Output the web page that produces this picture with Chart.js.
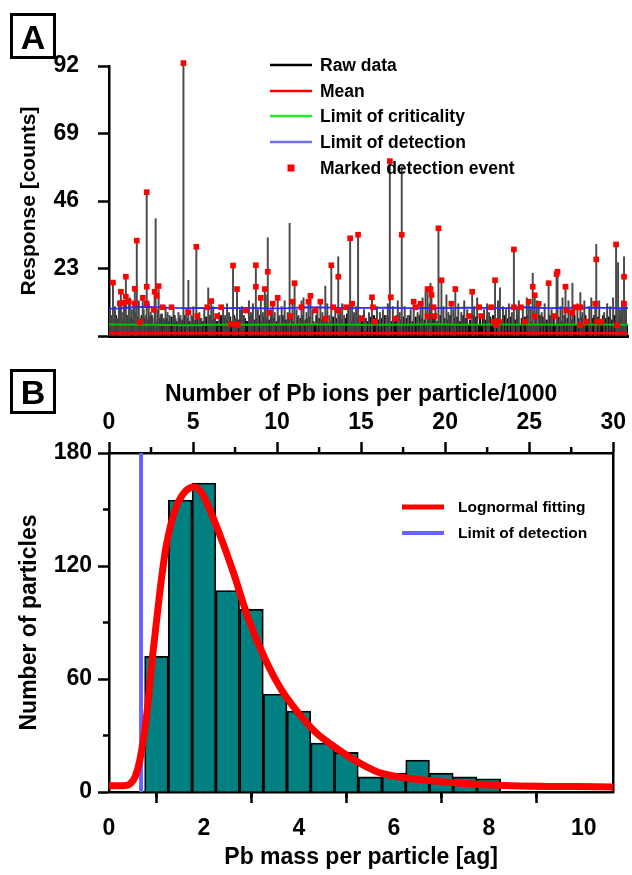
<!DOCTYPE html>
<html>
<head>
<meta charset="utf-8">
<script src="https://cdn.jsdelivr.net/npm/chart.js@4.4.0/dist/chart.umd.min.js"></script>
<style>
  body { margin: 0; background: #fff; }
  #wrap { position: relative; width: 632px; height: 875px; }
  .panel { position: absolute; left: 0; }
  .tag { position: absolute; left: 10px; width: 40px; border: 3px solid #000;
         font: bold 34px Arial, "Liberation Sans", sans-serif; text-align: center; }
</style>
</head>
<body>
<div id="wrap">
  <canvas id="chartA" class="panel" width="632" height="375" style="top:0"></canvas>
  <canvas id="chartB" class="panel" width="632" height="500" style="top:375px"></canvas>
  <div class="tag" style="top:13px;height:40px;line-height:42px">A</div>
  <div class="tag" style="top:369px;height:39px;line-height:41px">B</div>
</div>
<script>
const FONT = 'Arial, "Liberation Sans", sans-serif';

// ---------- panel A : time trace (x = time index) ----------
// big spikes of the raw signal
const spikeT = [4, 11, 12, 15, 17, 20, 26, 28, 34, 38,
                46, 47, 50, 75, 80, 88, 100, 103, 125, 129,
                148, 153, 157, 160, 165, 170, 182, 185, 187, 194,
                201, 203, 213, 218, 224, 231, 243, 245, 251, 265,
                283, 295, 307, 314, 321, 324, 325, 332, 335, 345,
                349, 366, 389, 394, 408, 423, 427, 429, 433, 443,
                451, 452, 460, 467, 475, 490, 491, 511, 513, 519];
const spikeH = [18.2, 12, 15.1, 11.3, 20.2, 11.7, 16.1, 32.5, 13, 49,
                15.1, 40, 17, 93, 19, 30.4, 16.4, 11.9, 24, 16,
                24.1, 13, 16, 33.5, 11, 13, 38.4, 11.7, 18, 12,
                11.7, 13.7, 11.7, 17, 24.1, 27, 33.3, 11, 34.5, 13.2,
                59.6, 57.7, 11.7, 11, 16, 18, 14, 36.7, 19, 11,
                16, 15.1, 19, 16.4, 29.5, 11.7, 21.4, 13.9, 11, 18,
                21.1, 21.9, 16.8, 18, 14.8, 11, 31.2, 31.2, 25, 27];

// small background spikes
const grassT = [1, 3, 6, 8, 10, 13, 16, 19, 21, 23,
                25, 27, 30, 32, 35, 37, 40, 42, 44, 49,
                52, 55, 57, 59, 61, 65, 67, 70, 72, 78,
                83, 85, 91, 93, 96, 102, 105, 107, 111, 115,
                117, 119, 121, 127, 132, 134, 136, 141, 143, 145,
                150, 155, 158, 163, 167, 172, 174, 177, 180, 189,
                191, 196, 199, 205, 210, 215, 220, 222, 228, 233,
                235, 237, 241, 247, 249, 253, 257, 259, 262, 270,
                273, 276, 279, 281, 286, 291, 293, 298, 301, 304,
                311, 316, 319, 323, 329, 337, 340, 342, 347, 352,
                355, 358, 361, 368, 371, 378, 381, 383, 392, 397,
                400, 403, 406, 411, 413, 417, 421, 425, 431, 436,
                439, 446, 455, 457, 463, 465, 472, 477, 479, 484,
                486, 494, 499, 502, 505, 508, 515, 517, 521];
const grassH = [9, 7, 10, 6, 12, 8, 11, 7, 13, 9,
                10, 8, 12, 6, 9, 7, 11, 8, 6, 9,
                7, 6, 10, 8, 7, 9, 6, 8, 7, 9,
                7, 10, 8, 6, 9, 7, 10, 6, 8, 9,
                7, 11, 8, 6, 9, 10, 7, 12, 8, 11,
                9, 8, 14, 9, 8, 7, 10, 12, 8, 9,
                7, 13, 8, 9, 10, 8, 11, 7, 9, 8,
                11, 7, 9, 8, 10, 7, 9, 6, 8, 10,
                8, 9, 7, 11, 10, 12, 8, 10, 7, 9,
                8, 13, 15, 11, 9, 10, 14, 8, 9, 11,
                8, 12, 9, 10, 13, 9, 11, 8, 12, 10,
                9, 11, 8, 10, 12, 9, 13, 10, 12, 8,
                11, 9, 10, 13, 12, 9, 11, 8, 12, 10,
                13, 12, 8, 11, 10, 13, 9, 12, 10];

// short, dense noise just above the floor
const lowT = [2, 5, 7, 9, 12, 14, 18, 22, 24, 29,
              31, 33, 36, 39, 41, 43, 47, 51, 53, 56,
              58, 60, 63, 66, 68, 71, 74, 76, 79, 81,
              84, 87, 89, 92, 95, 98, 101, 104, 106, 109,
              113, 116, 118, 122, 124, 126, 128, 131, 133, 137,
              139, 142, 144, 147, 149, 152, 154, 156, 159, 161,
              164, 166, 169, 171, 175, 178, 181, 184, 186, 190,
              193, 195, 198, 200, 202, 206, 209, 212, 214, 217,
              219, 223, 226, 229, 232, 234, 238, 240, 244, 246,
              250, 254, 256, 258, 261, 264, 267, 269, 272, 275,
              278, 282, 285, 288, 290, 294, 297, 300, 303, 306,
              309, 313, 315, 318, 322, 326, 328, 331, 334, 338,
              341, 344, 348, 351, 354, 357, 360, 364, 367, 370,
              374, 377, 380, 384, 387, 391, 395, 398, 402, 405,
              409, 412, 416, 419, 422, 426, 430, 434, 437, 441,
              444, 448, 453, 456, 459, 462, 466, 469, 473, 476,
              480, 483, 487, 489, 493, 496, 498, 501, 504, 507,
              510, 514, 516, 520];
const lowH = [6, 5, 7, 5.5, 6.5, 5, 7, 6, 5.5, 6.5,
              5, 7, 6, 5.5, 6.5, 7, 5, 6, 7.5, 5.5,
              6, 5, 6.5, 7, 5, 6, 5.5, 7, 6, 5,
              6.5, 5.5, 7, 6, 5, 6.5, 7, 5.5, 6, 5,
              7, 6, 5.5, 6.5, 5, 7, 6, 5.5, 7.5, 6,
              5, 6.5, 7, 5.5, 6, 7, 5, 6.5, 6, 5.5,
              7, 6, 5, 6.5, 7, 5.5, 6, 7, 5, 6.5,
              6, 7, 5.5, 6, 6.5, 5, 7, 6, 5.5, 6.5,
              7, 5, 6.5, 6, 7, 5.5, 6, 7.5, 5, 6.5,
              6, 5.5, 7, 6, 5, 6.5, 7, 6, 5.5, 6,
              7, 6.5, 5, 6, 7, 5.5, 6.5, 6, 7, 5,
              6.5, 7, 6, 5.5, 7, 6, 6.5, 5, 7, 6,
              5.5, 7, 6, 6.5, 5, 7, 6, 5.5, 7, 6.5,
              6, 7, 5.5, 6.5, 7, 6, 5, 7, 6, 6.5,
              5.5, 7, 6, 6.5, 7, 5, 6, 7, 6.5, 5.5,
              7, 6, 6.5, 5, 7, 6, 5.5, 7, 6, 6.5,
              7, 5.5, 6, 7, 6.5, 5, 7, 6, 6.5, 5.5,
              7, 6, 6.5, 5.5];

// solid noise floor
const floorT = [0, 60, 120, 180, 240, 300, 360, 420, 480, 523];
const floorH = [3.7, 3.6, 3.8, 3.6, 3.7, 3.6, 3.8, 3.6, 3.7, 3.6];

// marked detection events
const markT = [4, 11, 12, 15, 17, 17, 20, 26, 26, 28,
               31, 34, 38, 38, 38, 45, 46, 48, 50, 54,
               63, 75, 80, 88, 89, 99, 103, 109, 113, 123,
               125, 129, 129, 130, 138, 148, 148, 153, 157, 160,
               162, 165, 170, 183, 185, 187, 194, 201, 203, 208,
               213, 218, 224, 226, 231, 231, 239, 243, 245, 251,
               255, 265, 266, 268, 283, 284, 289, 295, 307, 309,
               314, 321, 321, 324, 325, 327, 328, 332, 335, 345,
               349, 363, 366, 373, 375, 385, 388, 389, 390, 393,
               408, 408, 415, 419, 423, 427, 429, 429, 433, 443,
               449, 451, 452, 460, 461, 467, 470, 475, 475, 481,
               490, 491, 492, 496, 511, 512, 519, 519];
const markH = [18.2, 11.1, 15.1, 11.3, 20.2, 13.4, 11.7, 16.1, 11.1, 32.5,
               4.7, 13, 49, 16.8, 11.1, 8.9, 15.1, 13.7, 17, 9.8,
               9.8, 93, 8.1, 30.4, 6.8, 9.8, 11.9, 6.8, 9.8, 4,
               24, 16, 4, 3.7, 8.7, 24.1, 16.8, 13, 16, 21.9,
               7.9, 11, 13, 6.8, 11.7, 18, 9.8, 11.7, 13.7, 8.7,
               11.7, 5.9, 24.1, 9.8, 20.2, 8.7, 9.8, 33.3, 11, 34.5,
               5.9, 13.2, 9.8, 4.9, 59.6, 13.2, 5.9, 34.5, 11.7, 9.8,
               11, 16, 6.8, 16, 14, 9.8, 6.8, 36.7, 19, 11,
               16, 6.8, 15.1, 9.8, 6.8, 9.8, 4.9, 19, 3.7, 4.9,
               29.5, 9.8, 9.8, 4.9, 11.7, 16.8, 13.9, 6.8, 11, 18,
               6.8, 21.1, 21.9, 16.8, 8.7, 7.9, 9.8, 9.8, 3.7, 4.9,
               11, 26.1, 4.9, 4.9, 31.2, 3.7, 20.2, 11];

const meanT = [0, 523];
const meanH = [0.9, 0.9];
const locT = [0, 40, 80, 120, 150, 200, 250, 300, 330, 350, 400, 450, 480, 523];
const locH = [3.9, 3.8, 3.7, 3.9, 3.8, 3.9, 3.8, 3.8, 4.0, 3.8, 3.9, 3.8, 3.9, 3.8];
const lodT = [0, 10, 25, 40, 60, 80, 100, 120, 140, 160, 180, 200, 220, 240,
              260, 280, 300, 320, 340, 360, 380, 400, 420, 440, 460, 480, 500, 523];
const lodH = [9.3, 9.4, 9.8, 9.9, 9.6, 9.5, 9.6, 9.5, 9.6, 9.4, 9.5, 9.8, 9.7, 9.5,
              9.6, 9.7, 9.5, 9.6, 9.5, 9.7, 9.6, 9.5, 9.8, 9.5, 9.6, 9.7, 9.6, 9.5];
const respStep = 23;

// ---------- panel B : histogram ----------
const binMid = [1.0, 1.5, 2.0, 2.5, 3.0, 3.5, 4.0, 4.5, 5.0, 5.5, 6.0, 6.5, 7.0, 7.5, 8.0];
const binCount = [72, 155, 164, 107, 97, 52, 43, 26, 21, 8, 10, 17, 10, 8, 7];
const fitX = [0, 0.35, 0.45, 0.55, 0.65, 0.79, 0.93, 1.07, 1.2, 1.41, 1.62, 1.8, 1.97, 2.25,
              2.6, 2.95, 3.3, 3.64, 3.99, 4.34, 4.69, 5.04, 5.38, 5.73, 6.78, 8.17, 10.62];
const fitY = [3.3, 3.5, 4.5, 8, 17, 40, 75, 106, 130, 151, 160, 162, 158, 142,
              118, 91, 70, 54, 42, 32, 25, 19, 14, 10, 6, 3.6, 2.7];
const lodMass = 0.675;
const yMinor = [30, 90, 150];
const massMinor = [1, 3, 5, 7, 9];
const ionMinor = [2.5, 7.5, 12.5, 17.5, 22.5, 27.5];

const pts = (xs, ys) => xs.map((x, i) => ({ x: x, y: ys[i] }));
const bold = size => ({ family: FONT, size: size, weight: 'bold' });

// legend drawn inside the plot like the original figure
function drawLegend(ctx, items, x0, x1, tx, font) {
  ctx.save();
  ctx.font = 'bold ' + font + 'px ' + FONT;
  ctx.textBaseline = 'middle';
  items.forEach(it => {
    if (it.square) {
      ctx.fillStyle = it.color;
      ctx.fillRect((x0 + x1) / 2 - 3.5, it.y - 3.5, 7, 7);
    } else {
      ctx.strokeStyle = it.color;
      ctx.lineWidth = it.width;
      ctx.beginPath();
      ctx.moveTo(x0, it.y);
      ctx.lineTo(x1, it.y);
      ctx.stroke();
    }
    ctx.fillStyle = '#000';
    ctx.fillText(it.label, tx, it.y + 1);
  });
  ctx.restore();
}

const legendA = {
  id: 'legendA',
  afterDraw(chart) {
    drawLegend(chart.ctx, [
      { label: 'Raw data', color: '#000', width: 2.5, y: 65 },
      { label: 'Mean', color: '#ff0000', width: 2.5, y: 91 },
      { label: 'Limit of criticality', color: '#22ee22', width: 2.5, y: 116 },
      { label: 'Limit of detection', color: '#6f6fff', width: 2.5, y: 142 },
      { label: 'Marked detection event', color: '#ff0000', square: true, y: 168 }
    ], 270, 312, 320, 17.5);
  }
};

const legendB = {
  id: 'legendB',
  afterDraw(chart) {
    drawLegend(chart.ctx, [
      { label: 'Lognormal fitting', color: '#ff0000', width: 5, y: 132 },
      { label: 'Limit of detection', color: '#6666ff', width: 4, y: 158 }
    ], 402, 444, 458, 15.5);
  }
};

const minorTicks = {
  id: 'minorTicks',
  afterDraw(chart) {
    const { ctx, scales } = chart;
    ctx.save();
    ctx.strokeStyle = '#000';
    ctx.lineWidth = 2.5;
    ctx.beginPath();
    yMinor.forEach(v => {
      const p = scales.y.getPixelForValue(v);
      ctx.moveTo(scales.y.right - 6, p); ctx.lineTo(scales.y.right, p);
    });
    massMinor.forEach(v => {
      const p = scales.x.getPixelForValue(v);
      ctx.moveTo(p, scales.x.top); ctx.lineTo(p, scales.x.top + 6);
    });
    ionMinor.forEach(v => {
      const p = scales.x2.getPixelForValue(v);
      ctx.moveTo(p, scales.x2.bottom - 6); ctx.lineTo(p, scales.x2.bottom);
    });
    ctx.stroke();
    ctx.restore();
  }
};

// panel A
new Chart(document.getElementById('chartA'), {
  type: 'line',
  data: {
    datasets: [
      { label: 'Marked detection event', data: pts(markT, markH), showLine: false,
        pointStyle: 'rect', pointRadius: 4, backgroundColor: '#ff0000', borderWidth: 0, clip: false, order: 0 },
      { label: 'Mean', data: pts(meanT, meanH), borderColor: '#ff0000', borderWidth: 2.5, pointRadius: 0, order: 1 },
      { label: 'Limit of detection', data: pts(lodT, lodH), borderColor: '#2a2aff', borderWidth: 1.8, pointRadius: 0, order: 2 },
      { label: 'Limit of criticality', data: pts(locT, locH), borderColor: '#00c000', borderWidth: 2, pointRadius: 0, order: 3 },
      { label: 'Raw data', type: 'bar', data: pts(spikeT, spikeH), backgroundColor: '#4a4a4a',
        barThickness: 1.3, grouped: false, clip: false, order: 4 },
      { label: 'Raw noise', type: 'bar', data: pts(grassT, grassH), backgroundColor: '#444',
        barThickness: 1.3, grouped: false, order: 5 },
      { label: 'Raw low noise', type: 'bar', data: pts(lowT, lowH), backgroundColor: '#111',
        barThickness: 1.6, grouped: false, order: 6 },
      { label: 'Raw floor', data: pts(floorT, floorH), borderColor: '#000', borderWidth: 1, pointRadius: 0,
        fill: 'origin', backgroundColor: '#000', order: 7 }
    ]
  },
  options: {
    responsive: false,
    animation: false,
    layout: { padding: { top: 66, right: 0, left: 0, bottom: 0 } },
    plugins: { legend: { display: false }, tooltip: { enabled: false } },
    scales: {
      x: {
        type: 'linear', min: 0, max: 523, offset: false,
        ticks: { display: false },
        grid: { drawOnChartArea: false, drawTicks: false },
        border: { color: '#000', width: 3 },
        afterFit: s => { s.height = 39; }
      },
      y: {
        min: 0, max: 92,
        ticks: { stepSize: respStep, color: '#000', font: bold(23), padding: 19,
                 callback: v => (v === 0 ? '' : v) },
        grid: { drawOnChartArea: false, tickLength: 11, tickColor: '#000', tickWidth: 2.5 },
        border: { color: '#000', width: 2.5 },
        title: { display: true, text: 'Response [counts]', color: '#000', font: bold(21),
                 padding: { top: 17, bottom: 0 } },
        afterFit: s => { s.width = 109; }
      }
    }
  },
  plugins: [legendA]
});

// panel B
new Chart(document.getElementById('chartB'), {
  type: 'bar',
  data: {
    datasets: [
      { type: 'line', label: 'Lognormal fitting', data: pts(fitX, fitY), borderColor: '#ff0000',
        borderWidth: 7, pointRadius: 0, cubicInterpolationMode: 'monotone', order: 0 },
      { type: 'line', label: 'Limit of detection', data: [{ x: lodMass, y: 0 }, { x: lodMass, y: 180 }],
        borderColor: '#6464ff', borderWidth: 4, pointRadius: 0, order: 1 },
      { label: 'Number of particles', data: pts(binMid, binCount), backgroundColor: '#008080',
        borderColor: '#000', borderWidth: 1.8, categoryPercentage: 1, barPercentage: 1, order: 2 }
    ]
  },
  options: {
    responsive: false,
    animation: false,
    layout: { padding: { top: 0, right: 15, left: 0, bottom: 0 } },
    plugins: { legend: { display: false }, tooltip: { enabled: false } },
    scales: {
      x: {
        type: 'linear', position: 'bottom', min: 0, max: 10.62, offset: false,
        ticks: { stepSize: 2, includeBounds: false, color: '#000', font: bold(23), padding: 12, maxRotation: 0 },
        grid: { drawOnChartArea: false, tickLength: 11, tickColor: '#000', tickWidth: 2.5 },
        border: { color: '#000', width: 2.5 },
        title: { display: true, text: 'Pb mass per particle [ag]', color: '#000', font: bold(23),
                 padding: { top: 0, bottom: 4 } },
        afterFit: s => { s.height = 83; }
      },
      x2: {
        type: 'linear', position: 'top', min: 0, max: 30, offset: false,
        ticks: { stepSize: 5, includeBounds: false, color: '#000', font: bold(23), padding: 6, maxRotation: 0 },
        grid: { drawOnChartArea: false, offset: false, tickLength: 11, tickColor: '#000', tickWidth: 2.5 },
        border: { color: '#000', width: 2.5 },
        title: { display: true, text: 'Number of Pb ions per particle/1000', color: '#000', font: bold(23),
                 padding: { top: 6, bottom: 0 } },
        afterFit: s => { s.height = 78; }
      },
      y: {
        min: 0, max: 180,
        ticks: { stepSize: 60, color: '#000', font: bold(23), padding: 6 },
        grid: { drawOnChartArea: false, tickLength: 11, tickColor: '#000', tickWidth: 2.5 },
        border: { color: '#000', width: 2.5 },
        title: { display: true, text: 'Number of particles', color: '#000', font: bold(23),
                 padding: { top: 16, bottom: 0 } },
        afterFit: s => { s.width = 109; }
      },
      y2: {
        position: 'right', min: 0, max: 180,
        ticks: { display: false },
        grid: { drawOnChartArea: false, drawTicks: false },
        border: { color: '#000', width: 2.5 },
        afterFit: s => { s.width = 0; }
      }
    }
  },
  plugins: [minorTicks, legendB]
});
</script>
</body>
</html>
